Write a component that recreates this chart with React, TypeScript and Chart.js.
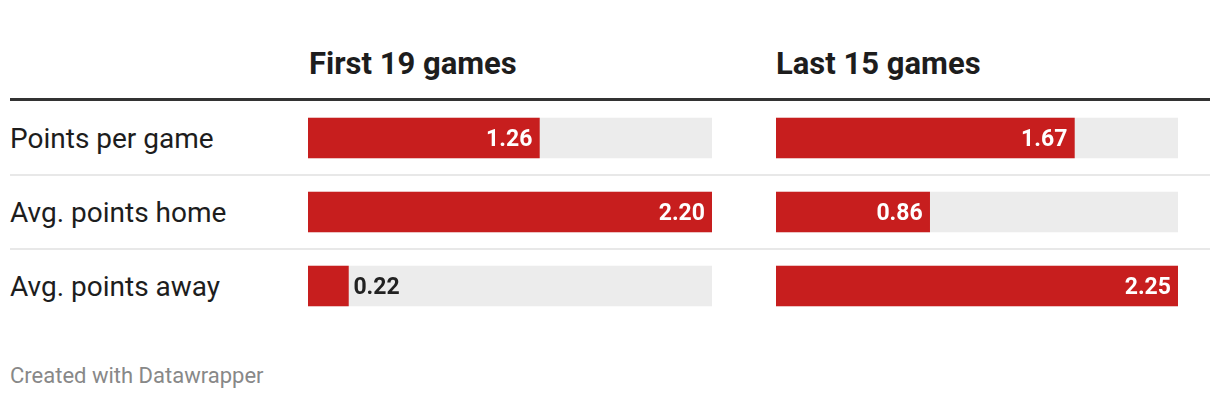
import React, { useEffect, useRef } from "react";
import { Chart, registerables } from "chart.js";

Chart.register(...registerables);

const categories = ["Points per game", "Avg. points home", "Avg. points away"];
const columnTitles = ["First 19 games", "Last 15 games"];
const first19 = [1.26, 2.2, 0.22];
const last15 = [1.67, 0.86, 2.25];
const footerText = "Created with Datawrapper";

const RED = "#c71e1e";
const GRAY = "#ececec";
const FONT = "Roboto, 'Noto Sans', sans-serif";

const valueLabelPlugin = {
  id: "valueLabels",
  afterDatasetsDraw(chart: any) {
    const ctx = chart.ctx;
    const meta = chart.getDatasetMeta(1);
    const data = chart.data.datasets[1].data as number[];
    ctx.save();
    ctx.font = `bold 23px ${FONT}`;
    ctx.textBaseline = "alphabetic";
    meta.data.forEach((bar: any, i: number) => {
      const text = data[i].toFixed(2);
      const w = ctx.measureText(text).width;
      const left = bar.base;
      const right = bar.x;
      if (right - left > w + 14) {
        ctx.fillStyle = "#ffffff";
        ctx.textAlign = "right";
        ctx.fillText(text, right - 7, bar.y + 7.5);
      } else {
        ctx.fillStyle = "#222222";
        ctx.textAlign = "left";
        ctx.fillText(text, right + 5, bar.y + 7.5);
      }
    });
    ctx.restore();
  },
};

function BarColumn({ values, left, width }: { values: number[]; left: number; width: number }) {
  const ref = useRef<HTMLCanvasElement>(null);
  useEffect(() => {
    if (!ref.current) return;
    const max = Math.max(...values);
    const chart = new Chart(ref.current, {
      type: "bar",
      data: {
        labels: categories,
        datasets: [
          {
            data: values.map(() => max),
            backgroundColor: GRAY,
            grouped: false,
            order: 1,
            barThickness: 40,
          } as any,
          {
            data: values,
            backgroundColor: RED,
            grouped: false,
            order: 0,
            barThickness: 40,
          } as any,
        ],
      },
      options: {
        indexAxis: "y",
        responsive: false,
        animation: false,
        layout: { padding: 0 },
        scales: {
          x: { display: false, min: 0, max },
          y: { display: false },
        },
        plugins: { legend: { display: false }, tooltip: { enabled: false } },
      },
      plugins: [valueLabelPlugin],
    });
    return () => chart.destroy();
  }, []);
  return (
    <canvas
      ref={ref}
      width={width}
      height={222}
      style={{ position: "absolute", left, top: 101, width, height: 222 }}
    />
  );
}

export default function App() {
  useEffect(() => {
    document.body.style.margin = "0";
  }, []);
  const rowTop = 101;
  const rowH = 74;
  return (
    <div
      style={{
        position: "relative",
        width: 1220,
        height: 398,
        fontFamily: FONT,
        color: "#1d1d1d",
        background: "#fff",
        overflow: "hidden",
      }}
    >
      {columnTitles.map((t, i) => (
        <div
          key={t}
          style={{
            position: "absolute",
            left: i === 0 ? 309 : 776,
            top: 48,
            lineHeight: "32px",
            fontSize: 31,
            fontWeight: 700,
            whiteSpace: "nowrap",
          }}
        >
          {t}
        </div>
      ))}
      <div style={{ position: "absolute", left: 10, top: 98, width: 1200, height: 3, background: "#333" }} />
      {[1, 2].map((k) => (
        <div
          key={k}
          style={{ position: "absolute", left: 10, top: rowTop + k * rowH - 1, width: 1200, height: 2, background: "#e8e8e8" }}
        />
      ))}
      {categories.map((c, i) => (
        <div
          key={c}
          style={{
            position: "absolute",
            left: 10,
            top: rowTop + i * rowH,
            height: rowH,
            display: "flex",
            alignItems: "center",
            fontSize: 28,
            whiteSpace: "nowrap",
          }}
        >
          {c}
        </div>
      ))}
      <BarColumn values={first19} left={308} width={404} />
      <BarColumn values={last15} left={776} width={402} />
      <div
        style={{
          position: "absolute",
          left: 10,
          top: 363,
          lineHeight: "26px",
          fontSize: 22,
          color: "#888",
          whiteSpace: "nowrap",
        }}
      >
        {footerText}
      </div>
    </div>
  );
}
